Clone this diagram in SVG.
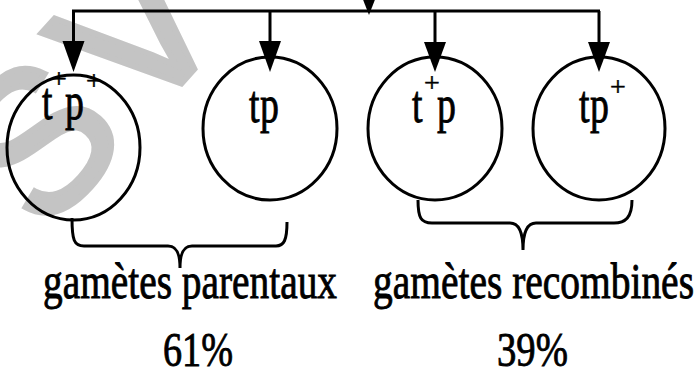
<svg xmlns="http://www.w3.org/2000/svg" width="697" height="373" viewBox="0 0 697 373">
<style>
.ln{stroke:#000;stroke-width:3;fill:none}
.cell{stroke:#000;stroke-width:3;fill:none}
.ah{fill:#000}
.t{font-family:"Liberation Serif","Times New Roman",serif;fill:#000;stroke:#000;stroke-width:0.7}
.sup{font-family:"Liberation Serif","Times New Roman",serif;fill:#000;font-size:28px;stroke:#000;stroke-width:0.5}
.wm{font-family:"Liberation Sans",Arial,sans-serif;fill:#c4c4c4;stroke:#c4c4c4;stroke-width:6;font-size:200px;letter-spacing:15px}
</style>
<rect width="697" height="373" fill="#fff"/>
<text class="wm" transform="translate(44,236) rotate(-48)">SV</text>
<g id="connectors">
<line class="ln" x1="369" y1="0" x2="369" y2="11"/>
<polygon class="ah" points="362,-3 376,-3 369,15"/>
<line class="ln" x1="72" y1="11" x2="600" y2="11"/>
<line class="ln" x1="73.5" y1="11" x2="73.5" y2="44"/>
<polygon class="ah" points="62.5,41 84.5,41 73.5,72"/>
<line class="ln" x1="270" y1="11" x2="270" y2="44"/>
<polygon class="ah" points="259,41 281,41 270,72"/>
<line class="ln" x1="435" y1="11" x2="435" y2="44"/>
<polygon class="ah" points="424,42 446,42 435,72"/>
<line class="ln" x1="599" y1="11" x2="599" y2="44"/>
<polygon class="ah" points="588,42 610,42 599,72"/>
<path class="ln" d="M72,218 C72,240 74,246 84,246 L168,246 C176,246 180,252 180,268 C180,252 184,246 192,246 L276,246 C284,246 287,240 287,222"/>
<path class="ln" d="M418,200 C418,218 421,223 432,223 L510,223 C518,223 523,230 523,250 C523,230 528,223 536,223 L614,223 C625,223 632,218 632,200"/>
</g>
<g id="g1">
<ellipse class="cell" cx="73.5" cy="147.5" rx="66.5" ry="72.5"/>
<text class="t" font-size="42" transform="translate(42,119) scale(0.9,1.25)">t</text>
<text class="t" font-size="42" transform="translate(65,119) scale(0.9,1.25)">p</text>
<text class="sup" x="51" y="88">+</text>
<text class="sup" x="86" y="90">+</text>
</g>
<g id="g2">
<ellipse class="cell" cx="270" cy="128.5" rx="67" ry="71.5"/>
<text class="t" font-size="42" transform="translate(249,122) scale(0.9,1.25)">t</text>
<text class="t" font-size="42" transform="translate(260,122) scale(0.9,1.25)">p</text>
</g>
<g id="g3">
<ellipse class="cell" cx="435" cy="128.5" rx="67" ry="71.5"/>
<text class="t" font-size="42" transform="translate(412,122) scale(0.9,1.25)">t</text>
<text class="t" font-size="42" transform="translate(437,122) scale(0.9,1.25)">p</text>
<text class="sup" x="424" y="92">+</text>
</g>
<g id="g4">
<ellipse class="cell" cx="599" cy="128.5" rx="66" ry="71.5"/>
<text class="t" font-size="42" transform="translate(579,122) scale(0.9,1.25)">t</text>
<text class="t" font-size="42" transform="translate(590,122) scale(0.9,1.25)">p</text>
<text class="sup" x="610" y="96">+</text>
</g>
<g id="label-parentaux">
<text class="t" font-size="40" transform="translate(43,298) scale(1,1.28)" textLength="294" lengthAdjust="spacingAndGlyphs">gamètes parentaux</text>
<text class="t" font-size="40" transform="translate(163,366) scale(1,1.24)" textLength="70" lengthAdjust="spacingAndGlyphs">61%</text>
</g>
<g id="label-recombines">
<text class="t" font-size="40" transform="translate(373,298) scale(1,1.28)" textLength="321" lengthAdjust="spacingAndGlyphs">gamètes recombinés</text>
<text class="t" font-size="40" transform="translate(497,366) scale(1,1.24)" textLength="71" lengthAdjust="spacingAndGlyphs">39%</text>
</g>
</svg>
